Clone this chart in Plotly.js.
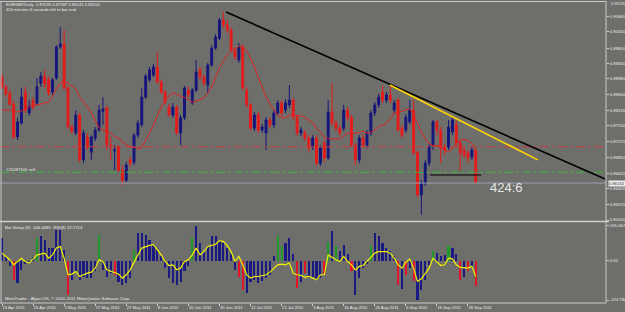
<!DOCTYPE html>
<html><head><meta charset="utf-8">
<script src="https://cdn.plot.ly/plotly-3.0.1.min.js"></script>
<style>html,body{margin:0;padding:0;background:#6e6e6b;}#c{width:625px;height:312px;}</style>
</head><body><div id="c"></div>
<script>
// ---- price data (EURGBP daily, bar index 0 = 13 Apr 2011) ----
const open = [.8903,.8876,.8859,.8829,.8740,.8778,.8862,.8805,.8838,.8832,
 .8886,.8905,.8895,.8862,.8900,.8984,.8992,.8873,.8767,.8751,
 .8800,.8678,.8740,.8699,.8737,.8759,.8810,.8819,.8718,.8702,
 .8713,.8650,.8623,.8678,.8672,.8745,.8773,.8848,.8895,.8908,
 .8930,.8889,.8862,.8821,.8800,.8821,.8751,.8792,.8867,.8832,
 .8867,.8922,.8903,.8881,.8935,.8981,.9008,.9057,.9044,.9030,
 .8976,.8949,.8984,.8867,.8827,.8764,.8800,.8759,.8751,.8786,
 .8773,.8805,.8832,.8813,.8827,.8840,.8794,.8751,.8751,.8737,
 .8713,.8737,.8669,.8724,.8683,.8808,.8778,.8764,.8764,.8813,
 .8792,.8718,.8678,.8737,.8718,.8751,.8805,.8827,.8862,.8840,
 .8854,.8813,.8840,.8764,.8759,.8781,.8813,.8697,.8583,.8615,
 .8669,.8713,.8781,.8759,.8713,.8713,.8754,.8773,.8724,.8705,
 .8697,.8686,.87035];
const high = [.8911,.8881,.8867,.8838,.8792,.8873,.8876,.8840,.8848,.8900,
 .8916,.8922,.8903,.8900,.8989,.9038,.9030,.8878,.8773,.8813,
 .8805,.8759,.8751,.8745,.8767,.8827,.8848,.8824,.8740,.8718,
 .8718,.8664,.8672,.8686,.8751,.8786,.8873,.8911,.8930,.8938,
 .8970,.8895,.8867,.8829,.8832,.8827,.8800,.8878,.8878,.8873,
 .8949,.8930,.8908,.8941,.8989,.9019,.9063,.9079,.9057,.9038,
 .8984,.8995,.8992,.8876,.8832,.8808,.8808,.8775,.8794,.8794,
 .8813,.8840,.8840,.8843,.8881,.8846,.8800,.8767,.8759,.8745,
 .8745,.8745,.8718,.8732,.8840,.8886,.8786,.8773,.8827,.8821,
 .8800,.8724,.8745,.8748,.8759,.8813,.8835,.8857,.8881,.8862,
 .8881,.8840,.8846,.8773,.8802,.8840,.8840,.8705,.8623,.8678,
 .8721,.8786,.8786,.8767,.8721,.8786,.8792,.8786,.8732,.8713,
 .8705,.8713,.87097];
const low = [.8870,.8848,.8824,.8735,.8732,.8773,.8805,.8797,.8813,.8827,
 .8876,.8873,.8851,.8854,.8895,.8979,.8867,.8762,.8748,.8745,
 .8672,.8669,.8705,.8678,.8729,.8754,.8773,.8705,.8678,.8650,
 .8645,.8610,.8618,.8659,.8664,.8737,.8767,.8843,.8889,.8903,
 .8884,.8857,.8829,.8794,.8792,.8745,.8718,.8786,.8846,.8827,
 .8862,.8895,.8878,.8859,.8930,.8976,.9003,.9036,.9022,.8970,
 .8949,.8941,.8867,.8819,.8759,.8756,.8751,.8751,.8705,.8764,
 .8764,.8797,.8797,.8805,.8819,.8786,.8743,.8743,.8729,.8699,
 .8705,.8661,.8661,.8672,.8678,.8770,.8756,.8743,.8756,.8783,
 .8713,.8664,.8669,.8710,.8710,.8743,.8797,.8819,.8832,.8832,
 .8832,.8805,.8754,.8737,.8751,.8775,.8691,.8578,.8529,.8607,
 .8661,.8705,.8745,.8669,.8691,.8705,.8745,.8716,.8650,.8683,
 .8669,.8678,.86141];
const close = [.8876,.8857,.8829,.8740,.8781,.8848,.8813,.8824,.8821,.8876,
 .8905,.8884,.8859,.8895,.8984,.8992,.8873,.8767,.8756,.8800,
 .8678,.8751,.8713,.8740,.8759,.8813,.8816,.8718,.8716,.8705,
 .8650,.8623,.8664,.8669,.8745,.8778,.8848,.8905,.8922,.8930,
 .8889,.8862,.8835,.8800,.8821,.8751,.8792,.8873,.8854,.8867,
 .8916,.8903,.8886,.8935,.8981,.9011,.9057,.9044,.9030,.8976,
 .8957,.8984,.8873,.8827,.8764,.8800,.8759,.8767,.8786,.8773,
 .8805,.8832,.8805,.8832,.8840,.8794,.8751,.8759,.8737,.8710,
 .8737,.8669,.8710,.8683,.8808,.8778,.8764,.8751,.8813,.8792,
 .8718,.8678,.8737,.8718,.8751,.8805,.8827,.8848,.8840,.8854,
 .8840,.8832,.8759,.8745,.8794,.8813,.8697,.8583,.8615,.8669,
 .8713,.8781,.8759,.8710,.8705,.8767,.8786,.8724,.8697,.8691,
 .8683,.8705,.86152];
const maPeriod = 10;
const maPre = [.8813,.8813,.8813,.8810,.8808,.8810,.8816,.8821,.8829];

// ---- indicator pane ----
const hist = [130,20,-30,-109,-128,-50,-20,-15,20,130,
 140,120,73,73,178,178,60,-195,-110,-60,
 -110,-90,-100,-100,-60,149,-50,-90,-70,-80,
 -120,-140,-130,-100,63,158,158,149,120,92,
 70,30,-40,-100,-130,-140,-120,-60,-30,130,
 197,100,55,80,145,145,120,100,75,40,
 -50,-90,-166,-185,-120,-110,-130,-115,-100,-80,
 30,140,82,100,130,40,-157,-120,-70,-100,
 -90,-110,-100,-80,110,168,82,55,92,40,
 -61,-195,-100,-42,-20,82,158,140,100,73,
 54,30,-138,-160,-80,-40,-118,-223,-166,-109,
 -25,57,44,25,34,82,73,38,-109,-90,
 -61,-42,-146.47];
const histKind = ("bbbrbbbbbg"+"bbbbbbbrbb"+"bbbbbgbbbr"+"bbbbgbbbbb"+"bbbbbbbbbg"+
 "bbbbbbbbbb"+"brrbbbbbbb"+"bggbbbrbrb"+"bbbrgbgbbb"+"rbbbbgbbbb"+
 "bbrbrbrbbb"+"bgbbbgbbrb"+"rbr").split("");
const sig = [44,25,6,-23,-4,15,-4,-13,11,34,
 38,44,15,34,73,82,15,-80,-76,-61,
 -90,-80,-71,-65,-42,6,-4,-52,-61,-71,
 -76,-99,-80,-52,-4,34,73,82,88,92,
 63,34,-4,-27,-23,-52,-42,-4,6,34,
 73,34,53,82,88,95,115,111,88,53,
 -4,25,-23,-80,-99,-90,-90,-84,-80,-65,
 -42,-23,-19,-23,-13,-71,-80,-84,-95,-90,
 -99,-109,-80,-80,34,19,6,-4,25,-4,
 -23,-52,-32,-27,-4,25,44,53,53,53,
 44,15,-23,-42,-8,11,-42,-118,-103,-71,
 -42,15,-8,-27,-23,15,11,-23,-38,-42,
 -42,-32,-90];

// ---- axis labels ----
const dateIdx = [0,8,16,24,32,40,48,56,64,72,80,88,96,104,112,120];
const dateLabels = ["13 Apr 2011","26 Apr 2011","5 May 2011","17 May 2011","27 May 2011","8 Jun 2011",
 "20 Jun 2011","30 Jun 2011","12 Jul 2011","22 Jul 2011","3 Aug 2011","16 Aug 2011","26 Aug 2011",
 "6 Sep 2011","16 Sep 2011","28 Sep 2011"];
const priceTicks = [0.85150,0.85570,0.86000,0.86420,0.86850,0.87270,0.87700,0.88130,0.88550,0.88980,0.89400,0.89800,0.90250,0.90680];
const indTicks = [205.067, 0, -224.780];
const indTickText = ["205.067","0.00","-224.780"];

// ---- drawn objects ----
const trendX = [57.7, 155.3], trendY = [0.9079, 0.8626];
const yellowX = [99.9, 138.0], yellowY = [0.8881, 0.8678];
const flatX = [110.2, 123.4], flatY = [0.8637, 0.8637];
const levelRed = 0.87137, levelGreen = 0.86443, bidPrice = 0.86152;

const idx = open.map((_, i) => i);
const ma = close.map((c, i) => {
  if (i < maPeriod - 1) return maPre[i];
  let s = 0; for (let k = i - maPeriod + 1; k <= i; k++) s += close[k];
  return s / maPeriod;
});
const kindColor = {b:'#1a1a82', g:'#1f9a2a', r:'#e3142c'};
const txt = '#ececec', fnt = 'Liberation Sans, Arial, sans-serif';
const X0 = -0.515, X1 = 155.55;
const tf = {size:4.2, color:txt, family:fnt};

const traces = [
  {type:'scatter', mode:'lines', x:[X0,X1], y:[levelRed,levelRed], line:{color:'#c84040', width:1, dash:'dashdot'}, xaxis:'x', yaxis:'y', hoverinfo:'skip'},
  {type:'scatter', mode:'lines', x:[X0,X1], y:[levelGreen,levelGreen], line:{color:'#3cb43c', width:1, dash:'dashdot'}, xaxis:'x', yaxis:'y', hoverinfo:'skip'},
  {type:'scatter', mode:'lines', x:[X0,X1], y:[bidPrice,bidPrice], line:{color:'#97a3b2', width:1}, xaxis:'x', yaxis:'y', hoverinfo:'skip'},
  {type:'candlestick', x:idx, open:open, high:high, low:low, close:close,
   increasing:{line:{color:'#16167c', width:1}, fillcolor:'#16167c'},
   decreasing:{line:{color:'#e41c1c', width:1}, fillcolor:'#e41c1c'},
   whiskerwidth:0, xaxis:'x', yaxis:'y', hoverinfo:'skip'},
  {type:'scatter', mode:'lines', x:idx, y:ma, line:{color:'#e02424', width:1}, xaxis:'x', yaxis:'y', hoverinfo:'skip'},
  {type:'scatter', mode:'lines', x:trendX, y:trendY, line:{color:'#000000', width:1.6}, xaxis:'x', yaxis:'y', hoverinfo:'skip'},
  {type:'scatter', mode:'lines', x:yellowX, y:yellowY, line:{color:'#ffd400', width:1.6}, xaxis:'x', yaxis:'y', hoverinfo:'skip'},
  {type:'scatter', mode:'lines', x:flatX, y:flatY, line:{color:'#000000', width:1.2}, xaxis:'x', yaxis:'y', hoverinfo:'skip'},
  {type:'bar', x:idx, y:hist, width:0.55, marker:{color:histKind.map(k => kindColor[k]), line:{width:0}}, xaxis:'x', yaxis:'y2', hoverinfo:'skip'},
  {type:'scatter', mode:'lines', x:idx, y:sig, line:{color:'#f2f200', width:1.2}, xaxis:'x', yaxis:'y2', hoverinfo:'skip'}
];

// paper coordinates from pixel rows of the 312 px frame (plot area rows 2..303)
const py = y => (303 - y) / 301;
const ann = (text, x, y, size, extra) => Object.assign({text, xref:'paper', yref:'paper', x: x/606, y: py(y),
  xanchor:'left', yanchor:'middle', showarrow:false, font:{size, color:txt, family:fnt}}, extra || {});

const layout = {
  width:625, height:312, margin:{l:0, r:19, t:2, b:9},
  paper_bgcolor:'#6e6e6b', plot_bgcolor:'#6e6e6b', showlegend:false, bargap:0,
  xaxis:{range:[X0,X1], anchor:'y2', showgrid:false, zeroline:false, showline:false, automargin:false,
    tickmode:'array', tickvals:dateIdx, ticktext:dateLabels, ticks:'outside', ticklen:2, tickcolor:'#cfcfcf',
    tickangle:0, ticklabelposition:'outside right', tickfont:tf, rangeslider:{visible:false}, fixedrange:true},
  yaxis:{domain:[py(221), 1], range:[0.85123, 0.91060], side:'right', anchor:'x', showgrid:false, zeroline:false, automargin:false,
    tickmode:'array', tickvals:priceTicks, ticktext:priceTicks.map(v => v.toFixed(5)), ticks:'outside', ticklen:2,
    tickcolor:'#cfcfcf', tickfont:tf},
  yaxis2:{domain:[0, py(222)], range:[-241.9, 222.4], side:'right', anchor:'x', showgrid:false, zeroline:false, automargin:false,
    tickmode:'array', tickvals:indTicks, ticktext:indTickText, ticks:'outside', ticklen:2,
    tickcolor:'#cfcfcf', tickfont:tf},
  shapes:[
    {type:'line', xref:'paper', yref:'paper', x0:0.0017, x1:0.0017, y0:0, y1:py(1), line:{color:'#c8c8c8', width:1}},
    {type:'line', xref:'paper', yref:'paper', x0:0, x1:1, y0:py(1.5), y1:py(1.5), line:{color:'#c8c8c8', width:1}},
    {type:'line', xref:'paper', yref:'paper', x0:1, x1:1, y0:0, y1:py(1), line:{color:'#c8c8c8', width:1}},
    {type:'line', xref:'paper', yref:'paper', x0:0, x1:1, y0:0, y1:0, line:{color:'#c8c8c8', width:1}},
    {type:'line', xref:'paper', yref:'paper', x0:0, x1:1.005, y0:py(221.5), y1:py(221.5), line:{color:'#d0d0d0', width:1.5}}
  ],
  annotations:[
    ann('EURGBP,Daily  0.87035 0.87097 0.86141 0.86152', 4, 4.5, 4.2),
    ann('424 minutes 6 seconds left to bar end', 4, 10, 4.2),
    ann('#25097100 sell', 4, 169.5, 4.3),
    ann('Bat Setup (8) -146.4685  RSI(8) 32.5714', 3, 227, 4.3),
    ann('MetaTrader - Alpari UK, © 2001-2011 MetaQuotes Software Corp.', 3, 298, 4.3),
    ann('0.91190', 609, 3.5, 4.2),
    {text:'0.86152', xref:'paper', yref:'y', x:1.004, y:bidPrice, xanchor:'left', yanchor:'middle', showarrow:false,
     bgcolor:'#eeeeee', borderpad:0, font:{size:4.2, color:'#303030', family:fnt}},
    {text:'424:6', xref:'x', yref:'y', x:130, y:0.8602, xanchor:'center', yanchor:'middle', showarrow:false,
     font:{size:13, color:'#e6e6e6', family:fnt}}
  ]
};
Plotly.newPlot('c', traces, layout, {staticPlot:true, displayModeBar:false});
</script></body></html>
